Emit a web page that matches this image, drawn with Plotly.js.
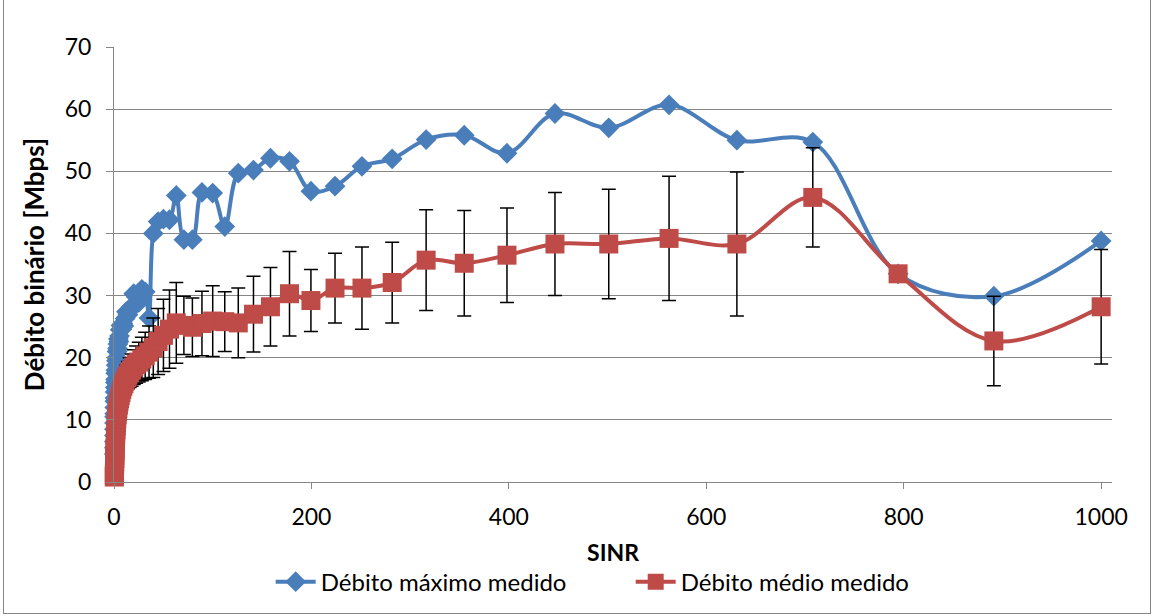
<!DOCTYPE html>
<html>
<head>
<meta charset="utf-8">
<script src="https://cdn.plot.ly/plotly-3.0.1.min.js"></script>
<style>
html,body{margin:0;padding:0;background:#fff;}
#wrap{position:relative;width:1153px;height:616px;overflow:hidden;}
#chart{position:absolute;left:0;top:0;width:1153px;height:616px;}
#frame{position:absolute;left:3px;top:-2px;width:1146px;height:614px;border:1px solid #868686;pointer-events:none;}
</style>
</head>
<body>
<div id="wrap"><div id="chart"></div><div id="frame"></div></div>
<script>
// SINR (linear)
const sinr = [0.32,0.35,0.40,0.45,0.50,0.56,0.63,0.71,0.79,0.89,1.00,1.12,1.26,1.41,1.58,1.78,2.00,2.24,2.51,2.82,3.16,3.55,3.98,4.47,5.01,5.62,6.31,7.08,7.94,8.91,10.0,11.2,12.6,14.1,15.8,17.8,20.0,22.4,25.1,28.2,31.6,35.5,39.8,44.7,50.1,56.2,63.1,70.8,79.4,89.1,100,112.2,125.9,141.3,158.5,177.8,199.5,223.9,251.2,281.8,316.2,354.8,398.1,446.7,501.2,562.3,631.0,707.9,794.3,891.3,1000];
// Débito máximo medido [Mbps]
const debitoMax = [4.5,5.5,6.5,7.5,8.5,9.5,10.5,11,12,13,13.5,14.5,15.2,16,16.5,17.5,18,18.8,19.5,20,21,21.5,22.2,23,22.6,23.5,24.5,25.2,24.6,25.5,25.1,26.3,27.4,26.9,27.6,28.2,30.3,29.8,28.9,31.0,30.6,26.4,40.0,41.9,42.3,42.2,46.1,39.0,39.0,46.6,46.5,41.1,49.7,50.2,52.1,51.6,46.8,47.6,50.8,52.0,55.1,55.8,52.9,59.3,57.0,60.7,55.0,54.7,33.5,29.9,38.8];
// Débito médio medido [Mbps]
const debitoMedio = [0.8,1.0,1.3,1.6,2.0,2.4,2.8,3.3,3.8,4.3,4.9,5.4,6.0,6.6,7.2,7.8,8.4,9.0,9.6,10.2,10.8,11.3,11.9,12.4,12.9,13.4,13.9,14.4,14.9,15.4,15.8,16.3,16.8,17.2,17.6,18.0,18.5,18.9,19.3,19.8,20.3,20.9,21.6,22.6,23.6,24.6,25.6,25.2,24.9,25.5,25.9,25.8,25.6,27.0,28.2,30.3,29.2,31.2,31.2,32.1,35.7,35.2,36.5,38.3,38.3,39.2,38.3,45.8,33.5,22.7,28.2];
// Desvio padrão (barras de erro)
const desvio = [0.2,0.2,0.3,0.3,0.3,0.4,0.4,0.4,0.5,0.5,0.5,0.6,0.6,0.7,0.7,0.8,0.8,0.9,0.9,1.0,1.0,1.1,1.1,1.2,1.2,1.3,1.3,1.4,1.4,1.5,1.6,1.8,2.0,2.2,2.4,2.6,2.8,3.0,3.2,3.5,3.8,4.2,4.8,5.3,5.8,6.3,6.5,4.7,4.7,5.2,5.7,4.8,5.6,6.1,6.3,6.8,5.0,5.6,6.6,6.5,8.1,8.5,7.6,8.3,8.8,10.0,11.6,8.0,0,7.2,9.2];
const seriesNames = ['Débito máximo medido','Débito médio medido'];
const xTicks = [0,200,400,600,800,1000];
const yTicks = [0,10,20,30,40,50,60,70];

const FONT = 'Lato, "Open Sans", sans-serif';

const traces = [
  {
    x: sinr, y: debitoMax, name: seriesNames[0], type: 'scatter', mode: 'lines+markers',
    cliponaxis: false,
    line: {color: '#4A7EBB', width: 4, shape: 'spline', smoothing: 1},
    marker: {symbol: 'diamond', size: 16, color: '#4A7EBB'}
  },
  {
    x: sinr, y: debitoMedio, name: seriesNames[1], type: 'scatter', mode: 'lines+markers',
    cliponaxis: false,
    line: {color: '#BE4B48', width: 4, shape: 'spline', smoothing: 1},
    marker: {symbol: 'square', size: 19, color: '#BE4B48'},
    error_y: {type: 'data', array: desvio, visible: true, color: '#000', thickness: 1.5, width: 7}
  }
];

const layout = {
  width: 1153, height: 616,
  margin: {l: 114, r: 41, t: 47, b: 134},
  paper_bgcolor: '#fff', plot_bgcolor: '#fff',
  font: {family: FONT, size: 23, color: '#000'},
  showlegend: true,
  legend: {
    orientation: 'h', x: 0.157, xanchor: 'left', y: -0.23, yanchor: 'middle',
    entrywidth: 305, entrywidthmode: 'pixels',
    font: {family: FONT, size: 24, color: '#000'}, itemwidth: 40, tracegroupgap: 0
  },
  xaxis: {
    range: [0, 1011], tickvals: xTicks, ticktext: xTicks.map(String),
    showgrid: false, zeroline: false, showline: true, linecolor: '#868686', linewidth: 1,
    ticks: 'outside', ticklen: 6, tickcolor: '#868686', ticklabelstandoff: 8,
    tickfont: {family: FONT, size: 23, color: '#000'},
    title: {text: '<b>SINR</b>', font: {family: FONT, size: 23, color: '#000'}, standoff: 16}
  },
  yaxis: {
    range: [0, 70], tickvals: yTicks, ticktext: yTicks.map(String),
    showgrid: true, gridcolor: '#868686', gridwidth: 1, zeroline: false,
    showline: true, linecolor: '#868686', linewidth: 1,
    ticks: 'outside', ticklen: 7, tickcolor: '#868686', ticklabelstandoff: 10,
    tickfont: {family: FONT, size: 23, color: '#000'},
    title: {text: '<b>Débito binário [Mbps]</b>', font: {family: FONT, size: 26, color: '#000'}, standoff: 12}
  }
};

Plotly.newPlot('chart', traces, layout, {displayModeBar: false, staticPlot: true});
</script>
</body>
</html>
